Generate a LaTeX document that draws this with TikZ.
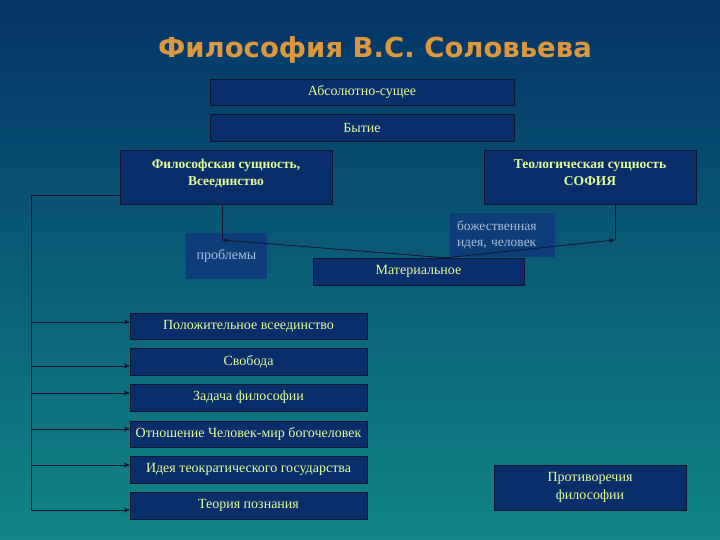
\documentclass[tikz,border=0pt]{standalone}
\usepackage{fontspec}
\setmainfont{Liberation Serif}
\newfontfamily\titlefont{DejaVu Sans}
\usetikzlibrary{
  arrows.meta,
  positioning,
  calc
}
\definecolor{bgtop}{RGB}{4,52,104}
\definecolor{bgbot}{RGB}{16,134,134}
\definecolor{navy}{RGB}{10,45,108}
\definecolor{softnavy}{RGB}{14,62,122}
\definecolor{lime}{RGB}{228,255,150}
\definecolor{greytxt}{RGB}{170,188,218}
\definecolor{gold}{RGB}{222,152,60}
\definecolor{wire}{RGB}{18,20,48}

\begin{document}
\begin{tikzpicture}[
  x=1pt, y=-1pt,
  every node/.style={font=\fontsize{14}{18}\selectfont},
  box/.style={draw=wire, fill=navy, text=lime, inner sep=0pt,
              minimum width=237pt, minimum height=26pt, align=center},
  note/.style={fill=softnavy, text=greytxt, inner sep=0pt},
  wire/.style={draw=wire, line width=0.8pt},
  >={Stealth[length=6pt,width=5pt]}
]

% background
\shade[top color=bgtop, bottom color=bgbot] (0,0) rectangle (720,540);
\useasboundingbox (0,0) rectangle (720,540);

% title
\node[text=gold, font=\titlefont\bfseries\fontsize{27.5}{32}\selectfont] (title)
  at (375,50) {Философия В.С. Соловьева};

% top blocks
\node[box, minimum width=304pt] (absol) at (362,92.5) {Абсолютно-сущее};
\node[box, minimum width=304pt, minimum height=27pt] (being) at (362,127.5)
  {Бытие};

\node[box, minimum width=212pt, minimum height=54pt,
      label={[text=lime, align=center, anchor=north, yshift=-6pt,
              font=\bfseries\fontsize{13.5}{17}\selectfont]north:
              Философская сущность,\\Всеединство}] (phil) at (226,177) {};
\node[box, minimum width=212pt, minimum height=54pt,
      label={[text=lime, align=center, anchor=north, yshift=-6pt,
              font=\bfseries\fontsize{13.5}{17}\selectfont]north:
              Теологическая сущность\\СОФИЯ}] (theo) at (590,177) {};

% middle
\node[note, minimum width=81pt, minimum height=46pt] (probl) at (226.5,256)
  {проблемы};
\node[box, minimum width=211pt, minimum height=27pt] (mater) at (418.5,271.5)
  {Материальное};
\node[note, minimum width=105pt, minimum height=44pt, text width=91pt,
      align=left, font=\fontsize{13.5}{16}\selectfont] (bozh) at (502.5,235)
  {божественная\\идея, человек};

% list
\node[box] (posit) at (248.5,326) {Положительное всеединство};
\node[box, minimum height=27pt] (svob) at (248.5,361.5) {Свобода};
\node[box, minimum height=27pt] (zadacha) at (248.5,397.5) {Задача философии};
\node[box] (otnosh) at (248.5,434) {Отношение Человек-мир богочеловек};
\node[box, minimum height=27pt] (ideya) at (248.5,469.5)
  {Идея теократического государства};
\node[box, minimum height=27pt] (teoriya) at (248.5,505.5) {Теория познания};

\node[box, minimum width=192pt, minimum height=45pt] (contra) at (590,487.5)
  {Противоречия\\философии};

% arrows
\coordinate (pend) at (222,240);
\coordinate (tend) at (615,240);
\coordinate (trunk) at (31,195);
\coordinate (trunkend) at (31,510);
\coordinate (fork) at ($(mater.north)+(27pt,0)$);

\draw[wire] (phil.south -| pend) -- (pend);
\draw[wire] (theo.south -| tend) -- (tend);
\draw[wire, ->] (fork) -- (pend);
\draw[wire, ->] (fork) -- (tend);

\draw[wire] (phil.west |- trunk) -- (trunk) -- (trunkend);
\foreach \item/\dy in {posit/4, svob/-4.5, zadacha/4.5, otnosh/5,
                       ideya/4.5, teoriya/-4.5} {
  \coordinate (tip) at ($(\item.west)+(0,\dy pt)$);
  \draw[wire, ->] (trunk |- tip) -- (tip);
}

\end{tikzpicture}
\end{document}
